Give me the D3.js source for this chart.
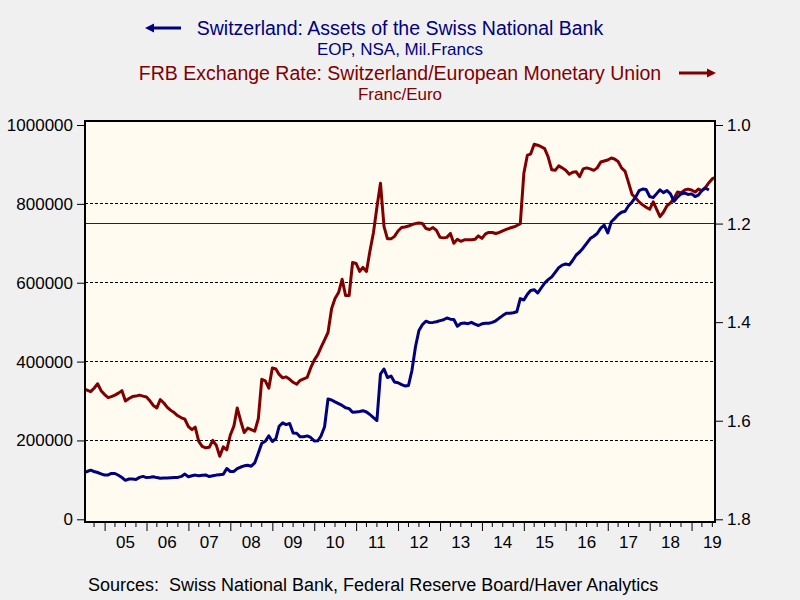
<!DOCTYPE html>
<html><head><meta charset="utf-8">
<script src="https://cdn.jsdelivr.net/npm/d3@7"></script>
<style>
body{margin:0;background:#f0f0f0;}
svg{display:block;font-family:"Liberation Sans",Arial,Helvetica,sans-serif;}
</style>
</head><body><div id="chart"></div>
<script>
// ---- DATA ----
// Monthly observations starting July 2004
const startYear = 2004, startMonth = 6; // July (0-based)

// Switzerland: Assets of the Swiss National Bank (Mil. Francs), Jul 2004 - Jun 2019
const assets = [
  118200,121200,124500,121200,118700,115400,
  112100,112600,116400,116200,111800,106000,98900,102200,102000,100900,106300,108800,
  105800,106800,108000,105800,104000,104500,104700,105200,105800,106300,108800,114600,
  108000,110600,112100,110300,111800,112600,108500,110300,112100,113100,114100,128800,
  121200,121500,128600,132600,135700,136900,134700,143300,168100,192700,197800,212000,
  197300,204700,235900,244500,240200,243000,218900,218100,209200,209500,211500,207500,
  198800,199100,211300,234600,305100,302600,297700,293200,288900,283000,280700,271400,
  272400,273600,275400,272100,265800,257700,250600,368500,381200,359600,363400,348200,
  346400,341600,338100,339300,377400,437700,478800,494000,502400,498800,499400,500900,
  503900,506200,510500,507500,506700,489500,496600,497800,496100,499600,495000,491500,
  495800,497100,497100,499400,503400,510300,516600,522400,522400,524000,526500,559700,
  556200,570900,580500,582300,573900,586600,599000,607700,614800,626400,638300,644700,
  647500,645200,656300,670300,677900,688100,700000,711900,718000,724800,738500,745900,
  726100,754700,762600,772200,778600,781400,795100,805000,817100,833600,837700,836400,
  818600,815900,825300,835600,828500,833900,825300,806500,817100,825000,827500,824000,
  825300,818600,822000,833600,840200,835100
];

// FRB Exchange Rate: Switzerland/EMU (Franc/Euro), Jul 2004 - Aug 2019
const rate = [
  1.535,1.538,1.541,1.534,1.525,1.539,
  1.547,1.553,1.551,1.548,1.544,1.539,1.560,1.555,1.551,1.550,1.548,1.550,
  1.552,1.560,1.569,1.574,1.557,1.564,1.573,1.579,1.584,1.590,1.594,1.597,
  1.612,1.618,1.613,1.642,1.652,1.655,1.654,1.640,1.650,1.672,1.653,1.659,
  1.629,1.611,1.574,1.601,1.624,1.615,1.618,1.621,1.596,1.516,1.519,1.534,
  1.493,1.495,1.506,1.513,1.511,1.516,1.522,1.526,1.518,1.515,1.512,1.493,
  1.477,1.466,1.451,1.436,1.421,1.373,1.352,1.340,1.313,1.346,1.346,1.279,
  1.281,1.297,1.289,1.297,1.256,1.218,1.167,1.118,1.206,1.231,1.231,1.226,
  1.215,1.208,1.207,1.205,1.202,1.200,1.199,1.200,1.210,1.212,1.208,1.214,
  1.228,1.229,1.228,1.220,1.240,1.232,1.236,1.233,1.233,1.233,1.232,1.225,
  1.230,1.221,1.218,1.218,1.220,1.218,1.215,1.212,1.209,1.207,1.204,1.200,
  1.098,1.061,1.059,1.039,1.041,1.044,1.048,1.065,1.091,1.092,1.083,1.087,
  1.092,1.100,1.096,1.095,1.105,1.089,1.087,1.089,1.092,1.087,1.075,1.073,
  1.071,1.067,1.069,1.074,1.087,1.094,1.117,1.141,1.148,1.156,1.162,1.167,
  1.171,1.156,1.170,1.186,1.177,1.164,1.158,1.149,1.136,1.138,1.132,1.130,
  1.132,1.136,1.130,1.133,1.127,1.117,1.109,1.106
];

const leftTicks = [0, 200000, 400000, 600000, 800000, 1000000];
const gridValues = [200000, 400000, 600000, 800000];
const rightTicks = [1.0, 1.2, 1.4, 1.6, 1.8];
const floorRate = 1.2;
const years = [2005,2006,2007,2008,2009,2010,2011,2012,2013,2014,2015,2016,2017,2018,2019];
const yearLabels = ["05","06","07","08","09","10","11","12","13","14","15","16","17","18","19"];

const title1 = "Switzerland: Assets of the Swiss National Bank";
const sub1 = "EOP, NSA, Mil.Francs";
const title2 = "FRB Exchange Rate: Switzerland/European Monetary Union";
const sub2 = "Franc/Euro";
const source = "Sources:  Swiss National Bank, Federal Reserve Board/Haver Analytics";

// ---- CHART ----
const W = 800, H = 600;
const plot = {x0: 85, x1: 715, y0: 121, y1: 522};
const navy = "#000080", maroon = "#800000";
const fontSize = 17;

const svg = d3.select("#chart").append("svg").attr("width", W).attr("height", H);
svg.append("rect").attr("width", W).attr("height", H).attr("fill", "#f0f0f0");

const monthDate = i => new Date(startYear, startMonth + i, 1);
const x = d3.scaleTime()
  .domain([new Date(2004, 6, 1), new Date(2019, 7, 1)])
  .range([83.5, 715.9]);
const yL = d3.scaleLinear().domain([0, 1000000]).range([519.3, 125]);
const yR = d3.scaleLinear().domain([1.8, 1.0]).range([519.3, 125]);

svg.append("rect")
  .attr("x", plot.x0).attr("y", plot.y0)
  .attr("width", plot.x1 - plot.x0).attr("height", plot.y1 - plot.y0)
  .attr("fill", "#fffbf0");

svg.append("clipPath").attr("id", "clip").append("rect")
  .attr("x", plot.x0).attr("y", plot.y0)
  .attr("width", plot.x1 - plot.x0).attr("height", plot.y1 - plot.y0);

// gridlines
svg.append("g").selectAll("line").data(gridValues).join("line")
  .attr("x1", plot.x0).attr("x2", plot.x1)
  .attr("y1", d => yL(d)).attr("y2", d => yL(d))
  .attr("stroke", "#000").attr("stroke-width", 1)
  .attr("stroke-dasharray", "3,2").attr("shape-rendering", "crispEdges");

// floor reference line at 1.2
svg.append("line")
  .attr("x1", plot.x0).attr("x2", plot.x1)
  .attr("y1", yR(floorRate)).attr("y2", yR(floorRate))
  .attr("stroke", maroon).attr("stroke-width", 1).attr("shape-rendering", "crispEdges");

const g = svg.append("g").attr("clip-path", "url(#clip)");
g.append("path")
  .datum(rate)
  .attr("d", d3.line().x((d, i) => x(monthDate(i))).y(d => yR(d)))
  .attr("fill", "none").attr("stroke", maroon).attr("stroke-width", 3)
  .attr("stroke-linejoin", "round");
g.append("path")
  .datum(assets)
  .attr("d", d3.line().x((d, i) => x(monthDate(i))).y(d => yL(d)))
  .attr("fill", "none").attr("stroke", navy).attr("stroke-width", 3)
  .attr("stroke-linejoin", "round");

// frame
svg.append("rect")
  .attr("x", plot.x0).attr("y", plot.y0)
  .attr("width", plot.x1 - plot.x0).attr("height", plot.y1 - plot.y0)
  .attr("fill", "none").attr("stroke", "#000").attr("stroke-width", 2);

// left axis
const axL = svg.append("g").attr("transform", `translate(${plot.x0 - 1},0)`)
  .call(d3.axisLeft(yL).tickValues(leftTicks).tickSize(7).tickPadding(4).tickFormat(d3.format("d")));
axL.select(".domain").remove();
axL.selectAll("text").attr("font-size", fontSize).attr("fill", "#000").attr("font-family", null);
axL.selectAll("line").attr("stroke", "#000");

// right axis
const axR = svg.append("g").attr("transform", `translate(${plot.x1 + 1},0)`)
  .call(d3.axisRight(yR).tickValues(rightTicks).tickSize(7).tickPadding(4).tickFormat(d3.format(".1f")));
axR.select(".domain").remove();
axR.selectAll("text").attr("font-size", fontSize).attr("fill", "#000").attr("font-family", null);
axR.selectAll("line").attr("stroke", "#000");

// bottom axis: major ticks at year starts, minor quarterly
const majorDates = years.map(y => new Date(y, 0, 1));
const axB = svg.append("g").attr("transform", `translate(0,${plot.y1 + 1})`)
  .call(d3.axisBottom(x).tickValues(majorDates).tickSize(8).tickFormat(""));
axB.select(".domain").remove();
axB.selectAll("line").attr("stroke", "#000");

const minorDates = d3.timeMonth.every(3).range(new Date(2004, 9, 1), new Date(2019, 7, 1))
  .filter(d => d.getMonth() !== 0);
svg.append("g").selectAll("line").data(minorDates).join("line")
  .attr("x1", d => x(d)).attr("x2", d => x(d))
  .attr("y1", plot.y1 + 1).attr("y2", plot.y1 + 5)
  .attr("stroke", "#000").attr("stroke-width", 1);

svg.append("g").selectAll("text").data(years).join("text")
  .attr("x", d => x(new Date(d, 6, 1)))
  .attr("y", 548)
  .attr("text-anchor", "middle")
  .attr("font-size", fontSize)
  .text((d, i) => yearLabels[i]);

// legend / titles
function arrow(x1, x2, y, color) {
  const dir = Math.sign(x2 - x1);
  svg.append("line").attr("x1", x1).attr("x2", x2 - dir * 6).attr("y1", y).attr("y2", y)
    .attr("stroke", color).attr("stroke-width", 3);
  svg.append("path")
    .attr("d", `M${x2},${y} L${x2 - dir * 9},${y - 4.5} L${x2 - dir * 9},${y + 4.5} Z`)
    .attr("fill", color);
}
svg.append("text").attr("x", 400).attr("y", 35).attr("text-anchor", "middle")
  .attr("font-size", 19.5).attr("fill", navy).text(title1);
svg.append("text").attr("x", 400).attr("y", 55).attr("text-anchor", "middle")
  .attr("font-size", 17).attr("fill", navy).text(sub1);
svg.append("text").attr("x", 400).attr("y", 80).attr("text-anchor", "middle")
  .attr("font-size", 19.5).attr("fill", maroon).text(title2);
svg.append("text").attr("x", 400).attr("y", 100).attr("text-anchor", "middle")
  .attr("font-size", 17).attr("fill", maroon).text(sub2);
arrow(181, 145, 28, navy);
arrow(679, 716, 73, maroon);

svg.append("text").attr("x", 88).attr("y", 591)
  .attr("font-size", 18).attr("fill", "#000")
  .attr("xml:space", "preserve").style("white-space", "pre")
  .text(source);
</script>
</body></html>
